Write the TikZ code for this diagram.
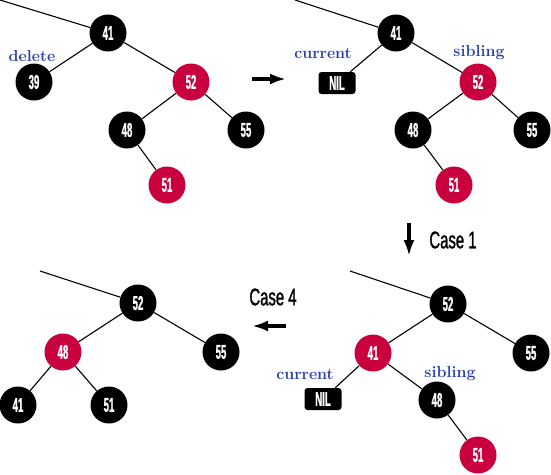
\documentclass[tikz,border=0pt]{standalone}
\usepackage{fontspec}
\usetikzlibrary{positioning,arrows.meta}
\newfontfamily\keyfont[FakeStretch=0.48,FakeBold=1]{Liberation Sans Bold}
\newfontfamily\casefont[FakeStretch=0.62,FakeBold=1.2]{Liberation Sans}
\definecolor{rbred}{RGB}{200,0,62}
\definecolor{noteblue}{RGB}{40,62,182}
\tikzstyle{blacknode} = [circle, fill=black, text=white, minimum size=37pt, inner sep=0pt, font=\keyfont\fontsize{20}{20}\selectfont]
\tikzstyle{rednode} = [blacknode, fill=rbred]
\tikzstyle{nilbox} = [rectangle, rounded corners=3pt, fill=black, text=white, minimum width=37pt, minimum height=22pt, inner sep=0pt, font=\keyfont\fontsize{20}{20}\selectfont]
\tikzstyle{note} = [text=noteblue, font=\bfseries\fontsize{16}{16}\selectfont, inner sep=0pt]
\tikzstyle{caselabel} = [font=\casefont\fontsize{24}{24}\selectfont, inner sep=0pt]
\tikzstyle{line} = [draw, line width=1.1pt]
\tikzstyle{move} = [draw, line width=4pt, -{Latex[length=16pt,width=11pt]}]

\begin{document}
\begin{tikzpicture}[x=1pt, y=-1pt]
    \useasboundingbox (0,0) rectangle (551,474);
    % Place nodes: before delete
    \coordinate (a-top) at (0,0);
    \node [blacknode] (a41) at (108,33) {41};
    \node [blacknode] (a39) at (34,82) {39};
    \node [rednode] (a52) at (191,82) {52};
    \node [blacknode] (a48) at (127,130) {48};
    \node [blacknode] (a55) at (246,130) {55};
    \node [rednode] (a51) at (167,185) {51};
    \node [note] at (32,56) {delete};
    % Place nodes: after delete
    \coordinate (b-top) at (295,0);
    \node [blacknode] (b41) at (396,33) {41};
    \node [nilbox] (bnil) at (337,83) {NIL};
    \node [rednode] (b52) at (478,82) {52};
    \node [blacknode] (b48) at (413,130) {48};
    \node [blacknode] (b55) at (532,130) {55};
    \node [rednode] (b51) at (454,185) {51};
    \node [note] at (323,53) {current};
    \node [note] at (479,53) {sibling};
    % Place nodes: after case 1
    \coordinate (c-top) at (350,271);
    \node [blacknode] (c52) at (448,304) {52};
    \node [rednode] (c41) at (373,353) {41};
    \node [blacknode] (c55) at (531,353) {55};
    \node [nilbox] (cnil) at (323,399) {NIL};
    \node [blacknode] (c48) at (437,400) {48};
    \node [rednode] (c51) at (478,455) {51};
    \node [note] at (305,374) {current};
    \node [note] at (450,374) {sibling};
    % Place nodes: after case 4
    \coordinate (d-top) at (40,271);
    \node [blacknode] (d52) at (138,303) {52};
    \node [rednode] (d48) at (63,352) {48};
    \node [blacknode] (d55) at (221,352) {55};
    \node [blacknode] (d41) at (18,405) {41};
    \node [blacknode] (d51) at (109,405) {51};
    % Steps
    \coordinate (s1-from) at (252,79);
    \coordinate (s1-to) at (286,79);
    \coordinate (s2-from) at (409,223);
    \coordinate (s2-to) at (409,256);
    \coordinate (s3-from) at (286,326);
    \coordinate (s3-to) at (252,326);
    \node [caselabel] at (453,240) {Case 1};
    \node [caselabel] at (273,297) {Case 4};
    % Draw edges
    \path [line] (a-top) -- (a41);
    \path [line] (a41) -- (a39);
    \path [line] (a41) -- (a52);
    \path [line] (a52) -- (a48);
    \path [line] (a52) -- (a55);
    \path [line] (a48) -- (a51);
    \path [line] (b-top) -- (b41);
    \path [line] (b41) -- (bnil);
    \path [line] (b41) -- (b52);
    \path [line] (b52) -- (b48);
    \path [line] (b52) -- (b55);
    \path [line] (b48) -- (b51);
    \path [line] (c-top) -- (c52);
    \path [line] (c52) -- (c41);
    \path [line] (c52) -- (c55);
    \path [line] (c41) -- (cnil);
    \path [line] (c41) -- (c48);
    \path [line] (c48) -- (c51);
    \path [line] (d-top) -- (d52);
    \path [line] (d52) -- (d48);
    \path [line] (d52) -- (d55);
    \path [line] (d48) -- (d41);
    \path [line] (d48) -- (d51);
    \path [move] (s1-from) -- (s1-to);
    \path [move] (s2-from) -- (s2-to);
    \path [move] (s3-from) -- (s3-to);
\end{tikzpicture}
\end{document}
